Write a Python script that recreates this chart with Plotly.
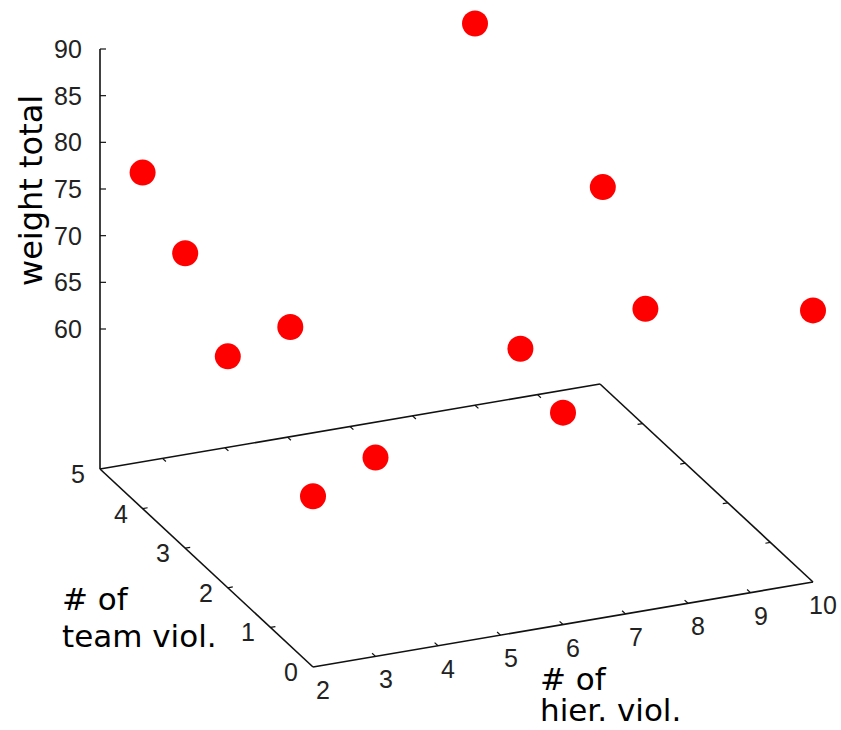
import numpy as np
import plotly.graph_objects as go

# ---- data -------------------------------------------------------------
hier_viol = [2, 2, 2, 3, 2, 3, 8, 6, 6, 8, 8, 10]          # "# of hier. viol."
team_viol = [4, 3, 2, 2, 0, 0, 5, 1, 0, 2, 1, 0]           # "# of team viol."
weight_total = [81.0, 76.6, 69.8, 71.8, 63.3, 66.3,
                85.9, 70.3, 67.7, 81.1, 72.3, 74.1]         # "weight total"

x_ticks = [2, 3, 4, 5, 6, 7, 8, 9, 10]
y_ticks = [0, 1, 2, 3, 4, 5]
z_ticks = [60, 65, 70, 75, 80, 85, 90]

# ---- 3-D box and view (orthographic, gnuplot-like) --------------------
X_RANGE = (2, 10)
Y_RANGE = (0, 5)
Z_RANGE = (60, 90)
TICSLEVEL = 0.5
Z_BASE = Z_RANGE[0] - TICSLEVEL * (Z_RANGE[1] - Z_RANGE[0])

W, H = 841, 730
ORIGIN = np.array([313.0, 667.0])      # screen point of (xmin, ymin, base)
AX = np.array([500.0, -85.0])          # screen span of the whole x range
AY = np.array([-213.0, -198.0])        # screen span of the whole y range
AZ = np.array([0.0, -420.0])           # screen span from base to zmax


def project(x, y, z):
    x = np.asarray(x, float)
    y = np.asarray(y, float)
    z = np.asarray(z, float)
    u = (x - X_RANGE[0]) / (X_RANGE[1] - X_RANGE[0])
    v = (y - Y_RANGE[0]) / (Y_RANGE[1] - Y_RANGE[0])
    w = (z - Z_BASE) / (Z_RANGE[1] - Z_BASE)
    sx = ORIGIN[0] + u * AX[0] + v * AY[0] + w * AZ[0]
    sy = ORIGIN[1] + u * AX[1] + v * AY[1] + w * AZ[1]
    return sx, sy


def segments(pairs):
    xs, ys = [], []
    for (a, b) in pairs:
        ax, ay = project(*a)
        bx, by = project(*b)
        xs += [float(ax), float(bx), None]
        ys += [float(ay), float(by), None]
    return xs, ys


fig = go.Figure()
LINE = dict(color="#111111", width=1.6)

# floor of the box
x0, x1 = X_RANGE
y0, y1 = Y_RANGE
floor = [((x0, y0, Z_BASE), (x1, y0, Z_BASE)),
         ((x1, y0, Z_BASE), (x1, y1, Z_BASE)),
         ((x1, y1, Z_BASE), (x0, y1, Z_BASE)),
         ((x0, y1, Z_BASE), (x0, y0, Z_BASE))]
fx, fy = segments(floor)
fig.add_trace(go.Scatter(x=fx, y=fy, mode="lines", line=LINE,
                         hoverinfo="skip", showlegend=False))

# vertical z axis at the back-left corner
zx, zy = segments([((x0, y1, Z_BASE), (x0, y1, Z_RANGE[1]))])
fig.add_trace(go.Scatter(x=zx, y=zy, mode="lines", line=LINE,
                         hoverinfo="skip", showlegend=False))

# tick marks (front/back for x, left/right for y)
TX = 0.08 * (Y_RANGE[1] - Y_RANGE[0]) / 5
TY = 0.08 * (X_RANGE[1] - X_RANGE[0]) / 8
tick_pairs = []
for t in x_ticks[1:-1]:
    tick_pairs.append(((t, y0, Z_BASE), (t, y0 + TX, Z_BASE)))
    tick_pairs.append(((t, y1, Z_BASE), (t, y1 - TX, Z_BASE)))
for t in y_ticks[1:-1]:
    tick_pairs.append(((x0, t, Z_BASE), (x0 + TY, t, Z_BASE)))
    tick_pairs.append(((x1, t, Z_BASE), (x1 - TY, t, Z_BASE)))
tx, ty = segments(tick_pairs)

# z ticks point horizontally to the right
for t in z_ticks:
    sx, sy = project(x0, y1, t)
    tx += [float(sx), float(sx) + 6, None]
    ty += [float(sy), float(sy), None]
fig.add_trace(go.Scatter(x=tx, y=ty, mode="lines",
                         line=dict(color="#111111", width=1.2),
                         hoverinfo="skip", showlegend=False))

# data points
px, py = project(hier_viol, team_viol, weight_total)
fig.add_trace(go.Scatter(x=px, y=py, mode="markers",
                         marker=dict(color="#ff0000", size=26,
                                     line=dict(width=0)),
                         hoverinfo="skip", showlegend=False))

# ---- tick labels ------------------------------------------------------
TICK_FONT = dict(family="Liberation Sans, Arial", size=25, color="#222222")
ann = []
for t in x_ticks:
    sx, sy = project(t, y0, Z_BASE)
    ann.append(dict(x=float(sx) + 10, y=float(sy) + 23, text=str(t),
                    showarrow=False, xanchor="center", yanchor="middle",
                    font=TICK_FONT))
for t in y_ticks:
    sx, sy = project(x0, t, Z_BASE)
    ann.append(dict(x=float(sx) - 22, y=float(sy) + 5, text=str(t),
                    showarrow=False, xanchor="center", yanchor="middle",
                    font=TICK_FONT))
for t in z_ticks:
    sx, sy = project(x0, y1, t)
    ann.append(dict(x=float(sx) - 16, y=float(sy), text=str(t),
                    showarrow=False, xanchor="right", yanchor="middle",
                    font=TICK_FONT))

# ---- axis titles ------------------------------------------------------
TITLE_FONT = dict(family="DejaVu Sans", size=31, color="#000000")


def title_line(x, y, text, anchor="middle"):
    return dict(x=x, y=y, text=text, showarrow=False, xanchor="left",
                yanchor=anchor, font=TITLE_FONT)


ann.append(dict(x=31, y=191, text="weight total", textangle=-90,
                showarrow=False, xanchor="center", yanchor="middle",
                font=dict(TITLE_FONT, size=32)))
ann.append(title_line(60, 599, "# of"))
ann.append(title_line(60, 636, "team viol."))
ann.append(title_line(538, 679, "# of"))
ann.append(title_line(538, H, "hier. viol.", anchor="bottom"))

fig.update_layout(
    width=W, height=H,
    margin=dict(l=0, r=0, t=0, b=0),
    paper_bgcolor="white", plot_bgcolor="white",
    xaxis=dict(range=[0, W], visible=False, fixedrange=True),
    yaxis=dict(range=[H, 0], visible=False, fixedrange=True),
    annotations=ann,
    showlegend=False,
)

fig.write_html("out.html")
